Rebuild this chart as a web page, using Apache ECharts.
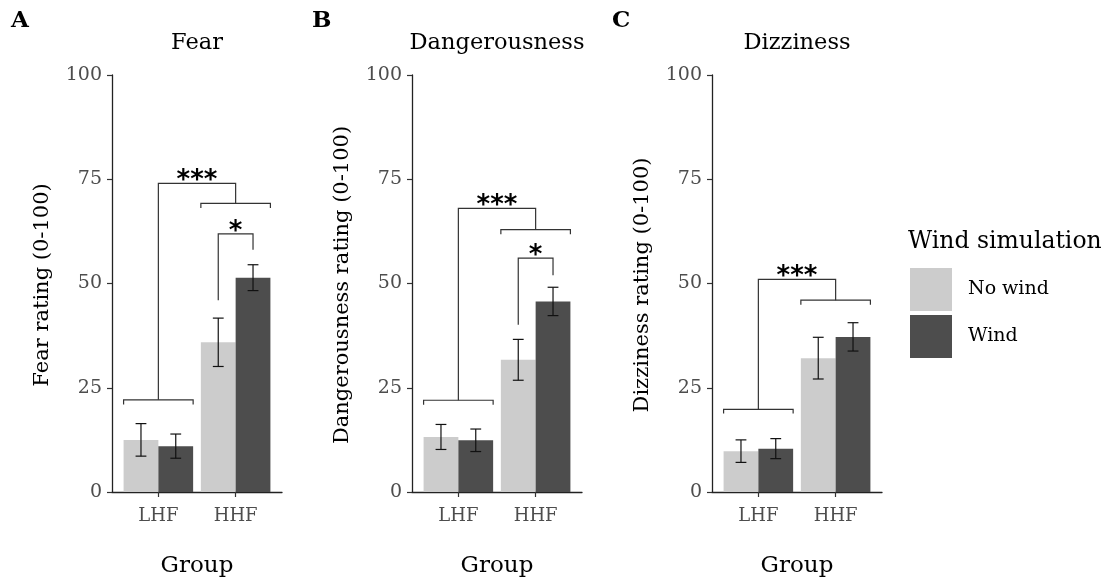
<!DOCTYPE html>
<html>
<head>
<meta charset="utf-8">
<script src="https://cdn.jsdelivr.net/npm/echarts@6/dist/echarts.min.js"></script>
<style>html,body{margin:0;padding:0;background:#fff}#c{width:1113px;height:583px}</style>
</head>
<body>
<div id="c"></div>
<script>
// ---- data ----
const categories = ['LHF', 'HHF'];
const seriesNames = ['No wind', 'Wind'];
const panelTitles = ['Fear', 'Dangerousness', 'Dizziness'];
const panelLetters = ['A', 'B', 'C'];
const yAxisNames = ['Fear rating (0-100)', 'Dangerousness rating (0-100)', 'Dizziness rating (0-100)'];
const xAxisName = 'Group';
const legendTitle = 'Wind simulation';
const yTicks = [0, 25, 50, 75, 100];

const fearNoWind = [12.5, 35.9];
const fearNoWindSE = [3.9, 5.8];
const fearWind = [11.0, 51.4];
const fearWindSE = [2.9, 3.1];

const dangerNoWind = [13.2, 31.7];
const dangerNoWindSE = [3.0, 4.9];
const dangerWind = [12.4, 45.7];
const dangerWindSE = [2.7, 3.4];

const dizzyNoWind = [9.8, 32.1];
const dizzyNoWindSE = [2.7, 5.0];
const dizzyWind = [10.4, 37.2];
const dizzyWindSE = [2.4, 3.4];

// brackets: [xStart, xEnd, yTop, yLeftEnd, yRightEnd, label]
const fearBrackets = [
  [0.55, 1.45, 22.1, 21.0, 21.0, ''],
  [1.55, 2.45, 69.2, 68.1, 68.1, ''],
  [1, 2, 74.0, 22.1, 69.2, '***'],
  [1.775, 2.225, 61.9, 46.0, 58.1, '*']
];
const dangerBrackets = [
  [0.55, 1.45, 22.0, 20.9, 20.9, ''],
  [1.55, 2.45, 62.9, 61.8, 61.8, ''],
  [1, 2, 68.0, 22.0, 62.9, '***'],
  [1.775, 2.225, 56.1, 40.1, 52.0, '*']
];
const dizzyBrackets = [
  [0.55, 1.45, 19.8, 18.8, 18.8, ''],
  [1.55, 2.45, 46.0, 44.9, 44.9, ''],
  [1, 2, 51.0, 19.8, 46.0, '***']
];

// ---- layout / style ----
const colors = ['#cccccc', '#4d4d4d'];
const serif = 'DejaVu Serif';
const panelLeft = [112, 412, 712];
const plotTop = 75, plotH = 420, plotW = 170;
const dodge = 0.225, barHalf = 0.225, capHalf = 0.07;

const panels = [
  {noWind: fearNoWind, noWindSE: fearNoWindSE, wind: fearWind, windSE: fearWindSE, brackets: fearBrackets},
  {noWind: dangerNoWind, noWindSE: dangerNoWindSE, wind: dangerWind, windSE: dangerWindSE, brackets: dangerBrackets},
  {noWind: dizzyNoWind, noWindSE: dizzyNoWindSE, wind: dizzyWind, windSE: dizzyWindSE, brackets: dizzyBrackets}
];

const grids = [], xAxes = [], yAxes = [], series = [], graphics = [];

function barSeries(p, name, means, ses, offset, color) {
  return {
    type: 'custom', name: name, xAxisIndex: p, yAxisIndex: p,
    itemStyle: {color: color},
    data: categories.map((c, i) => [i + 1, means[i], ses[i]]),
    renderItem: function (params, api) {
      const x = api.value(0) + offset, y = api.value(1), se = api.value(2);
      const a = api.coord([x - barHalf, y]), b = api.coord([x + barHalf, 0]);
      const t = api.coord([x, y + se]), bt = api.coord([x, y - se]);
      const cl = api.coord([x - capHalf, y + se]), cr = api.coord([x + capHalf, y - se]);
      const ls = {stroke: '#111', lineWidth: 1.2};
      return {type: 'group', children: [
        {type: 'rect', shape: {x: a[0], y: a[1], width: b[0] - a[0], height: b[1] - a[1]}, style: {fill: color}},
        {type: 'line', z2: 10, shape: {x1: t[0], y1: t[1], x2: bt[0], y2: bt[1]}, style: ls},
        {type: 'line', z2: 10, shape: {x1: cl[0], y1: t[1], x2: cr[0], y2: t[1]}, style: ls},
        {type: 'line', z2: 10, shape: {x1: cl[0], y1: bt[1], x2: cr[0], y2: bt[1]}, style: ls}
      ]};
    }
  };
}

panels.forEach((pd, p) => {
  grids.push({left: panelLeft[p], top: plotTop, width: plotW, height: plotH, containLabel: false});
  xAxes.push({
    type: 'value', gridIndex: p, min: 0.4, max: 2.6,
    name: xAxisName, nameLocation: 'middle', nameGap: 63,
    nameTextStyle: {fontFamily: serif, fontSize: 23, color: '#000'},
    axisLine: {show: true, onZero: false, lineStyle: {color: '#222', width: 1.3}},
    axisTick: {show: true, length: 5, customValues: [1, 2], lineStyle: {color: '#333', width: 1.2}},
    axisLabel: {show: true, customValues: [1, 2], margin: 15, formatter: v => categories[Math.round(v) - 1],
      fontFamily: serif, fontSize: 18, color: '#4d4d4d'},
    splitLine: {show: false}
  });
  yAxes.push({
    type: 'value', gridIndex: p, min: 0, max: 100, interval: 25,
    axisLine: {show: true, onZero: false, lineStyle: {color: '#222', width: 1.3}},
    axisTick: {show: true, length: 5, lineStyle: {color: '#333', width: 1.2}},
    axisLabel: {margin: 10, fontFamily: serif, fontSize: 19, color: '#4d4d4d',
      formatter: v => (yTicks.indexOf(v) >= 0 ? String(v) : '')},
    splitLine: {show: false}
  });
  series.push(barSeries(p, seriesNames[0], pd.noWind, pd.noWindSE, -dodge, colors[0]));
  series.push(barSeries(p, seriesNames[1], pd.wind, pd.windSE, dodge, colors[1]));
  series.push({
    type: 'custom', xAxisIndex: p, yAxisIndex: p, z: 5, silent: true,
    data: pd.brackets,
    renderItem: function (params, api) {
      const x1 = api.value(0), x2 = api.value(1), yt = api.value(2), yl = api.value(3), yr = api.value(4);
      const label = pd.brackets[params.dataIndex][5];
      const pl = api.coord([x1, yt]), pr = api.coord([x2, yt]);
      const el = api.coord([x1, yl]), er = api.coord([x2, yr]);
      const ls = {stroke: '#333', lineWidth: 1.2, fill: null};
      const children = [
        {type: 'polyline', shape: {points: [[el[0], el[1]], [pl[0], pl[1]], [pr[0], pr[1]], [er[0], er[1]]]}, style: ls}
      ];
      if (label) {
        children.push({type: 'text', style: {text: label, x: (pl[0] + pr[0]) / 2, y: pl[1] + 11,
          align: 'center', verticalAlign: 'bottom', font: 'bold 26px "DejaVu Sans"', fill: '#000'}});
      }
      return {type: 'group', children: children};
    }
  });
  graphics.push({type: 'text', x: panelLeft[p] + plotW / 2, y: 43,
    style: {text: panelTitles[p], align: 'center', verticalAlign: 'middle', font: '22.5px "DejaVu Serif"', fill: '#000'}});
  graphics.push({type: 'text', x: [11, 312, 612][p], y: 21,
    style: {text: panelLetters[p], align: 'left', verticalAlign: 'middle', font: 'bold 23px "DejaVu Serif"', fill: '#000'}});
  graphics.push({type: 'text', x: panelLeft[p] - 69, y: plotTop + plotH / 2, rotation: Math.PI / 2,
    style: {text: yAxisNames[p], align: 'center', verticalAlign: 'middle', font: '21px "DejaVu Serif"', fill: '#000'}});
});

graphics.push({type: 'text', x: 908, y: 242,
  style: {text: legendTitle, align: 'left', verticalAlign: 'middle', font: '23.5px "DejaVu Serif"', fill: '#000'}});

const chart = echarts.init(document.getElementById('c'), null, {renderer: 'canvas'});
chart.setOption({
  animation: false,
  backgroundColor: '#fff',
  grid: grids, xAxis: xAxes, yAxis: yAxes, series: series,
  legend: {
    data: seriesNames, orient: 'vertical', left: 910, top: 268, padding: 0,
    icon: 'rect', itemWidth: 42, itemHeight: 43, itemGap: 4,
    textStyle: {fontFamily: serif, fontSize: 19, color: '#000', padding: [6, 0, 0, 11]},
    selectedMode: false
  },
  graphic: graphics
});
</script>
</body>
</html>
